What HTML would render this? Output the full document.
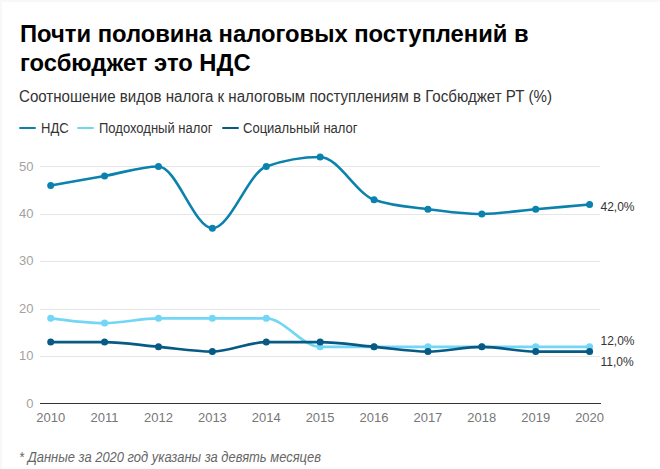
<!DOCTYPE html>
<html><head><meta charset="utf-8"><style>
html,body{margin:0;padding:0;background:#fff;}
body{width:660px;height:469px;position:relative;overflow:hidden;font-family:"Liberation Sans",sans-serif;}
.bt{position:absolute;left:0;top:0;width:660px;height:2px;background:#f8f8f8;}
.bl{position:absolute;left:0;top:0;width:2px;height:469px;background:#f8f8f8;}
.title{position:absolute;left:20px;top:19px;font-size:24px;font-weight:700;line-height:29px;color:#000;white-space:nowrap;transform:scaleX(0.99);transform-origin:0 0;}
.sub{position:absolute;left:19px;top:87px;font-size:16px;line-height:20px;color:#333;white-space:nowrap;transform:scaleX(0.943);transform-origin:0 0;}
.leg{position:absolute;top:118.75px;font-size:14px;line-height:18px;color:#333;white-space:nowrap;transform:scaleX(0.93);transform-origin:0 0;}
.sw{position:absolute;top:126.8px;height:2.4px;border-radius:1px;}
.yl{position:absolute;left:0;width:33.5px;text-align:right;font-size:13px;line-height:16px;color:#a2a2a2;}
.xl{position:absolute;top:410px;width:60px;text-align:center;font-size:13px;line-height:16px;color:#777;}
.vl{position:absolute;left:600.5px;font-size:12px;line-height:16px;color:#333;white-space:nowrap;}
.foot{position:absolute;left:19px;top:447.85px;font-size:14px;transform:scaleX(0.925);transform-origin:0 0;line-height:18px;font-style:italic;color:#666;white-space:nowrap;}
svg{position:absolute;left:0;top:0;}
</style></head><body>
<div class="bt"></div><div class="bl"></div>
<div class="title">Почти половина налоговых поступлений в<br>госбюджет это НДС</div>
<div class="sub">Соотношение видов налога к налоговым поступлениям в Госбюджет РТ (%)</div>
<div class="sw" style="left:19px;width:17px;background:#0a82ad"></div>
<div class="leg" style="left:41px">НДС</div>
<div class="sw" style="left:76.8px;width:17.7px;background:#72d6f6"></div>
<div class="leg" style="left:99px">Подоходный налог</div>
<div class="sw" style="left:221.5px;width:17px;background:#075a84"></div>
<div class="leg" style="left:242.8px">Социальный налог</div>
<div class="yl" style="top:395.8px">0</div><div class="yl" style="top:348.3px">10</div><div class="yl" style="top:300.9px">20</div><div class="yl" style="top:253.4px">30</div><div class="yl" style="top:206.0px">40</div><div class="yl" style="top:158.5px">50</div>
<div class="xl" style="left:20.7px">2010</div><div class="xl" style="left:74.6px">2011</div><div class="xl" style="left:128.5px">2012</div><div class="xl" style="left:182.4px">2013</div><div class="xl" style="left:236.3px">2014</div><div class="xl" style="left:290.1px">2015</div><div class="xl" style="left:344.0px">2016</div><div class="xl" style="left:397.9px">2017</div><div class="xl" style="left:451.8px">2018</div><div class="xl" style="left:505.7px">2019</div><div class="xl" style="left:559.6px">2020</div>
<svg width="660" height="469" viewBox="0 0 660 469"><line x1="40" x2="600" y1="356.5" y2="356.5" stroke="#e6e6e6" stroke-width="1"/><line x1="40" x2="600" y1="309.5" y2="309.5" stroke="#e6e6e6" stroke-width="1"/><line x1="40" x2="600" y1="261.5" y2="261.5" stroke="#e6e6e6" stroke-width="1"/><line x1="40" x2="600" y1="214.5" y2="214.5" stroke="#e6e6e6" stroke-width="1"/><line x1="40" x2="600" y1="166.5" y2="166.5" stroke="#e6e6e6" stroke-width="1"/><line x1="40" x2="601" y1="403.5" y2="403.5" stroke="#333" stroke-width="1"/><path d="M50.70,185.48C68.66,182.32 86.63,179.16 104.59,175.99C122.55,172.83 140.52,166.50 158.48,166.50C176.44,166.50 194.41,228.20 212.37,228.20C230.33,228.20 248.30,172.83 266.26,166.50C284.22,160.17 302.19,157.01 320.15,157.01C338.11,157.01 356.08,193.39 374.04,199.72C392.00,206.05 409.97,206.84 427.93,209.21C445.89,211.59 463.86,213.96 481.82,213.96C499.78,213.96 517.75,210.80 535.71,209.21C553.67,207.63 571.64,206.05 589.60,204.47" fill="none" stroke="#0a82ad" stroke-width="2.6" stroke-linecap="round" stroke-linejoin="round"/><circle cx="50.70" cy="185.48" r="3.5" fill="#0a82ad"/><circle cx="104.59" cy="175.99" r="3.5" fill="#0a82ad"/><circle cx="158.48" cy="166.50" r="3.5" fill="#0a82ad"/><circle cx="212.37" cy="228.20" r="3.5" fill="#0a82ad"/><circle cx="266.26" cy="166.50" r="3.5" fill="#0a82ad"/><circle cx="320.15" cy="157.01" r="3.5" fill="#0a82ad"/><circle cx="374.04" cy="199.72" r="3.5" fill="#0a82ad"/><circle cx="427.93" cy="209.21" r="3.5" fill="#0a82ad"/><circle cx="481.82" cy="213.96" r="3.5" fill="#0a82ad"/><circle cx="535.71" cy="209.21" r="3.5" fill="#0a82ad"/><circle cx="589.60" cy="204.47" r="3.5" fill="#0a82ad"/><path d="M50.70,318.37C68.66,320.75 86.63,323.12 104.59,323.12C122.55,323.12 140.52,318.37 158.48,318.37C176.44,318.37 194.41,318.37 212.37,318.37C230.33,318.37 248.30,318.37 266.26,318.37C284.22,318.37 302.19,346.85 320.15,346.85C338.11,346.85 356.08,346.85 374.04,346.85C392.00,346.85 409.97,346.85 427.93,346.85C445.89,346.85 463.86,346.85 481.82,346.85C499.78,346.85 517.75,346.85 535.71,346.85C553.67,346.85 571.64,346.85 589.60,346.85" fill="none" stroke="#72d6f6" stroke-width="2.6" stroke-linecap="round" stroke-linejoin="round"/><circle cx="50.70" cy="318.37" r="3.5" fill="#72d6f6"/><circle cx="104.59" cy="323.12" r="3.5" fill="#72d6f6"/><circle cx="158.48" cy="318.37" r="3.5" fill="#72d6f6"/><circle cx="212.37" cy="318.37" r="3.5" fill="#72d6f6"/><circle cx="266.26" cy="318.37" r="3.5" fill="#72d6f6"/><circle cx="320.15" cy="346.85" r="3.5" fill="#72d6f6"/><circle cx="374.04" cy="346.85" r="3.5" fill="#72d6f6"/><circle cx="427.93" cy="346.85" r="3.5" fill="#72d6f6"/><circle cx="481.82" cy="346.85" r="3.5" fill="#72d6f6"/><circle cx="535.71" cy="346.85" r="3.5" fill="#72d6f6"/><circle cx="589.60" cy="346.85" r="3.5" fill="#72d6f6"/><path d="M50.70,342.10C68.66,342.10 86.63,342.10 104.59,342.10C122.55,342.10 140.52,345.27 158.48,346.85C176.44,348.43 194.41,351.59 212.37,351.59C230.33,351.59 248.30,342.10 266.26,342.10C284.22,342.10 302.19,342.10 320.15,342.10C338.11,342.10 356.08,345.27 374.04,346.85C392.00,348.43 409.97,351.59 427.93,351.59C445.89,351.59 463.86,346.85 481.82,346.85C499.78,346.85 517.75,351.59 535.71,351.59C553.67,351.59 571.64,351.59 589.60,351.59" fill="none" stroke="#075a84" stroke-width="2.6" stroke-linecap="round" stroke-linejoin="round"/><circle cx="50.70" cy="342.10" r="3.5" fill="#075a84"/><circle cx="104.59" cy="342.10" r="3.5" fill="#075a84"/><circle cx="158.48" cy="346.85" r="3.5" fill="#075a84"/><circle cx="212.37" cy="351.59" r="3.5" fill="#075a84"/><circle cx="266.26" cy="342.10" r="3.5" fill="#075a84"/><circle cx="320.15" cy="342.10" r="3.5" fill="#075a84"/><circle cx="374.04" cy="346.85" r="3.5" fill="#075a84"/><circle cx="427.93" cy="351.59" r="3.5" fill="#075a84"/><circle cx="481.82" cy="346.85" r="3.5" fill="#075a84"/><circle cx="535.71" cy="351.59" r="3.5" fill="#075a84"/><circle cx="589.60" cy="351.59" r="3.5" fill="#075a84"/></svg>
<div class="vl" style="top:198.5px">42,0%</div>
<div class="vl" style="top:332.5px">12,0%</div>
<div class="vl" style="top:354px">11,0%</div>
<div class="foot">* Данные за 2020 год указаны за девять месяцев</div>
</body></html>
